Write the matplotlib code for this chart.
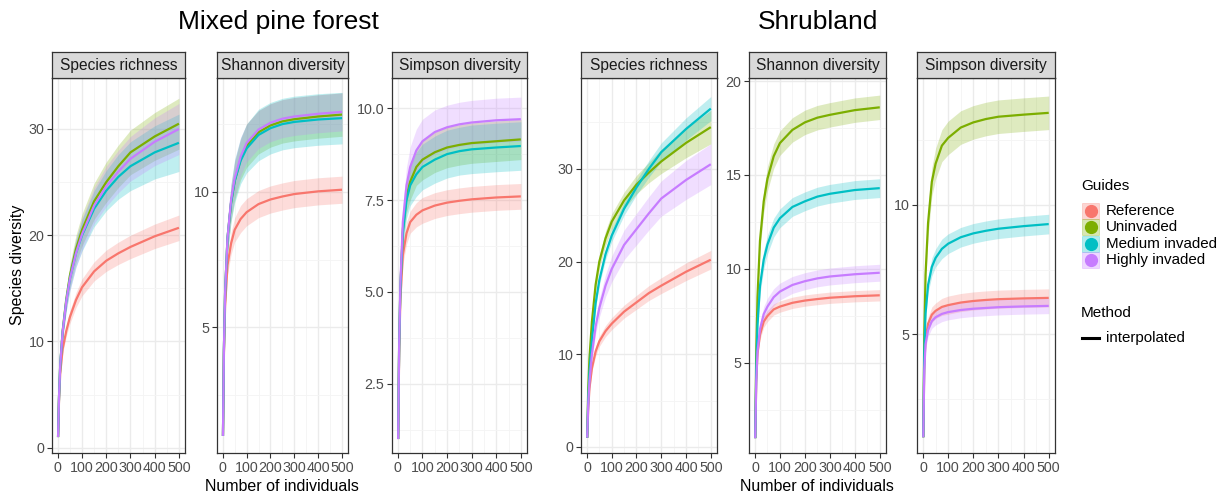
import matplotlib
matplotlib.use("Agg")
import matplotlib.pyplot as plt
import numpy as np
from matplotlib.patches import Rectangle
from matplotlib.lines import Line2D

plt.rcParams['font.family'] = ['Liberation Sans', 'DejaVu Sans']

# ---------------- data ----------------
sites = ["Mixed pine forest", "Shrubland"]
metrics = ["Species richness", "Shannon diversity", "Simpson diversity"]
guides = ["Reference", "Uninvaded", "Medium invaded", "Highly invaded"]
colors = ["#F8766D", "#7CAE00", "#00BFC4", "#C77CFF"]

n_ind = [1, 5, 10, 20, 35, 50, 75, 100, 150, 200, 250, 300, 400, 500]

# Mixed pine forest - species richness
mix_rich_ref = [1, 4.5, 7.0, 9.3, 11.0, 12.3, 13.9, 15.1, 16.6, 17.6, 18.3, 18.9, 19.9, 20.7]
mix_rich_uni = [1, 4.8, 7.8, 11.0, 14.0, 16.2, 18.7, 20.5, 23.2, 25.0, 26.5, 27.8, 29.3, 30.5]
mix_rich_med = [1, 4.8, 7.8, 10.9, 13.8, 15.9, 18.3, 20.0, 22.5, 24.2, 25.5, 26.5, 27.8, 28.7]
mix_rich_hi = [1, 4.8, 7.8, 10.9, 13.8, 15.9, 18.3, 20.1, 22.8, 24.6, 26.0, 27.2, 28.8, 30.0]
mix_rich_ref_ci = [0, 0.2, 0.3, 0.4, 0.5, 0.6, 0.7, 0.8, 0.9, 1.0, 1.05, 1.1, 1.15, 1.2]
mix_rich_uni_ci = [0, 0.3, 0.5, 0.7, 0.9, 1.1, 1.3, 1.5, 1.7, 1.9, 2.0, 2.1, 2.25, 2.4]
mix_rich_med_ci = [0, 0.3, 0.5, 0.7, 0.9, 1.1, 1.3, 1.5, 1.7, 1.9, 2.1, 2.3, 2.5, 2.7]
mix_rich_hi_ci = [0, 0.3, 0.5, 0.7, 0.9, 1.1, 1.3, 1.5, 1.7, 1.9, 2.0, 2.1, 2.25, 2.4]

# Mixed pine forest - Shannon diversity
mix_shan_ref = [1, 4.0, 5.8, 7.3, 8.1, 8.6, 9.0, 9.25, 9.55, 9.72, 9.83, 9.92, 10.02, 10.08]
mix_shan_uni = [1, 4.2, 6.3, 8.3, 9.6, 10.4, 11.2, 11.7, 12.2, 12.45, 12.6, 12.68, 12.78, 12.85]
mix_shan_med = [1, 4.2, 6.3, 8.3, 9.6, 10.4, 11.15, 11.6, 12.1, 12.35, 12.5, 12.58, 12.67, 12.72]
mix_shan_hi = [1, 4.2, 6.3, 8.3, 9.7, 10.5, 11.3, 11.8, 12.3, 12.55, 12.7, 12.78, 12.88, 12.95]
mix_shan_ref_ci = [0, 0.2, 0.3, 0.35, 0.4, 0.45, 0.5, 0.5, 0.5, 0.5, 0.5, 0.5, 0.5, 0.5]
mix_shan_uni_ci = [0, 0.3, 0.45, 0.55, 0.65, 0.7, 0.75, 0.8, 0.8, 0.8, 0.8, 0.8, 0.8, 0.8]
mix_shan_med_ci = [0, 0.3, 0.45, 0.6, 0.7, 0.8, 0.85, 0.9, 0.95, 0.95, 0.95, 0.95, 0.95, 0.95]
mix_shan_hi_ci = [0, 0.3, 0.45, 0.55, 0.6, 0.65, 0.7, 0.7, 0.7, 0.7, 0.7, 0.7, 0.7, 0.7]

# Mixed pine forest - Simpson diversity
mix_simp_ref = [1, 3.3, 4.8, 6.0, 6.6, 6.9, 7.1, 7.22, 7.35, 7.43, 7.48, 7.52, 7.57, 7.6]
mix_simp_uni = [1, 3.5, 5.1, 6.7, 7.6, 8.0, 8.4, 8.6, 8.8, 8.93, 9.0, 9.05, 9.1, 9.15]
mix_simp_med = [1, 3.5, 5.1, 6.6, 7.5, 7.9, 8.2, 8.4, 8.6, 8.75, 8.83, 8.88, 8.93, 8.97]
mix_simp_hi = [1, 3.5, 5.2, 6.9, 7.9, 8.4, 8.85, 9.1, 9.35, 9.48, 9.56, 9.61, 9.67, 9.7]
mix_simp_ref_ci = [0, 0.15, 0.2, 0.25, 0.3, 0.3, 0.33, 0.35, 0.35, 0.35, 0.35, 0.35, 0.35, 0.35]
mix_simp_uni_ci = [0, 0.2, 0.3, 0.4, 0.45, 0.5, 0.5, 0.55, 0.55, 0.55, 0.55, 0.55, 0.55, 0.55]
mix_simp_med_ci = [0, 0.2, 0.3, 0.45, 0.5, 0.55, 0.6, 0.62, 0.64, 0.65, 0.65, 0.66, 0.66, 0.66]
mix_simp_hi_ci = [0, 0.2, 0.35, 0.45, 0.5, 0.55, 0.58, 0.6, 0.6, 0.6, 0.6, 0.6, 0.6, 0.6]

# Shrubland - species richness
shr_rich_ref = [1, 4.0, 6.3, 8.5, 10.3, 11.4, 12.5, 13.3, 14.6, 15.6, 16.6, 17.4, 18.9, 20.2]
shr_rich_uni = [1, 6.0, 9.5, 13.5, 17.5, 20.0, 22.5, 24.3, 26.6, 28.3, 29.6, 30.8, 32.8, 34.5]
shr_rich_med = [1, 5.0, 8.0, 11.5, 15.5, 18.0, 20.8, 22.8, 25.7, 28.0, 30.0, 31.8, 34.3, 36.5]
shr_rich_hi = [1, 4.5, 7.0, 10.0, 13.0, 15.0, 17.4, 19.2, 21.8, 23.5, 25.2, 26.8, 28.8, 30.5]
shr_rich_ref_ci = [0, 0.2, 0.3, 0.4, 0.5, 0.55, 0.6, 0.65, 0.7, 0.75, 0.8, 0.85, 0.95, 1.0]
shr_rich_uni_ci = [0, 0.3, 0.4, 0.5, 0.6, 0.7, 0.8, 0.85, 0.9, 1.0, 1.1, 1.3, 1.6, 1.8]
shr_rich_med_ci = [0, 0.2, 0.3, 0.4, 0.5, 0.55, 0.6, 0.65, 0.7, 0.8, 0.9, 1.0, 1.2, 1.3]
shr_rich_hi_ci = [0, 0.3, 0.4, 0.6, 0.8, 1.0, 1.2, 1.4, 1.6, 1.7, 1.8, 1.9, 2.1, 2.2]

# Shrubland - Shannon diversity
shr_shan_ref = [1, 4.0, 5.5, 6.5, 7.2, 7.5, 7.85, 8.0, 8.2, 8.32, 8.4, 8.47, 8.55, 8.6]
shr_shan_uni = [1, 5.5, 8.5, 11.5, 13.6, 14.8, 16.0, 16.7, 17.4, 17.8, 18.05, 18.2, 18.45, 18.6]
shr_shan_med = [1, 4.6, 7.0, 9.1, 10.5, 11.3, 12.2, 12.7, 13.3, 13.6, 13.85, 14.0, 14.2, 14.3]
shr_shan_hi = [1, 4.0, 5.6, 6.8, 7.6, 8.0, 8.5, 8.8, 9.15, 9.35, 9.5, 9.6, 9.72, 9.8]
shr_shan_ref_ci = [0, 0.15, 0.2, 0.25, 0.3, 0.3, 0.3, 0.3, 0.3, 0.3, 0.3, 0.3, 0.3, 0.3]
shr_shan_uni_ci = [0, 0.3, 0.4, 0.5, 0.6, 0.65, 0.65, 0.65, 0.65, 0.65, 0.65, 0.65, 0.65, 0.65]
shr_shan_med_ci = [0, 0.25, 0.35, 0.45, 0.5, 0.5, 0.5, 0.5, 0.5, 0.5, 0.5, 0.5, 0.5, 0.5]
shr_shan_hi_ci = [0, 0.2, 0.3, 0.35, 0.4, 0.45, 0.45, 0.45, 0.45, 0.45, 0.45, 0.45, 0.45, 0.45]

# Shrubland - Simpson diversity
shr_simp_ref = [1, 3.8, 4.8, 5.4, 5.75, 5.9, 6.05, 6.12, 6.22, 6.28, 6.32, 6.35, 6.38, 6.4]
shr_simp_uni = [1, 5.0, 7.3, 9.3, 10.9, 11.6, 12.3, 12.6, 13.0, 13.2, 13.33, 13.42, 13.5, 13.57]
shr_simp_med = [1, 4.3, 5.8, 6.9, 7.6, 7.95, 8.3, 8.5, 8.75, 8.9, 9.0, 9.08, 9.18, 9.26]
shr_simp_hi = [1, 3.6, 4.6, 5.15, 5.5, 5.65, 5.78, 5.85, 5.93, 5.98, 6.01, 6.04, 6.07, 6.09]
shr_simp_ref_ci = [0, 0.15, 0.2, 0.25, 0.3, 0.3, 0.33, 0.35, 0.35, 0.35, 0.35, 0.35, 0.35, 0.35]
shr_simp_uni_ci = [0, 0.3, 0.4, 0.5, 0.55, 0.6, 0.62, 0.65, 0.65, 0.65, 0.65, 0.65, 0.65, 0.65]
shr_simp_med_ci = [0, 0.2, 0.25, 0.3, 0.35, 0.35, 0.38, 0.38, 0.38, 0.38, 0.38, 0.38, 0.38, 0.38]
shr_simp_hi_ci = [0, 0.15, 0.2, 0.25, 0.28, 0.3, 0.3, 0.3, 0.3, 0.3, 0.3, 0.3, 0.3, 0.3]

x_ticks = [0, 100, 200, 300, 400, 500]
x_tick_labels = ["0", "100", "200", "300", "400", "500"]

panels = [
    dict(series=[mix_rich_ref, mix_rich_uni, mix_rich_med, mix_rich_hi],
         ci=[mix_rich_ref_ci, mix_rich_uni_ci, mix_rich_med_ci, mix_rich_hi_ci],
         ylim=(-0.5, 34.8), yt=[0, 10, 20, 30], ytl=["0", "10", "20", "30"], step=10),
    dict(series=[mix_shan_ref, mix_shan_uni, mix_shan_med, mix_shan_hi],
         ci=[mix_shan_ref_ci, mix_shan_uni_ci, mix_shan_med_ci, mix_shan_hi_ci],
         ylim=(0.37, 14.2), yt=[5, 10], ytl=["5", "10"], step=5),
    dict(series=[mix_simp_ref, mix_simp_uni, mix_simp_med, mix_simp_hi],
         ci=[mix_simp_ref_ci, mix_simp_uni_ci, mix_simp_med_ci, mix_simp_hi_ci],
         ylim=(0.62, 10.82), yt=[2.5, 5.0, 7.5, 10.0], ytl=["2.5", "5.0", "7.5", "10.0"], step=2.5),
    dict(series=[shr_rich_ref, shr_rich_uni, shr_rich_med, shr_rich_hi],
         ci=[shr_rich_ref_ci, shr_rich_uni_ci, shr_rich_med_ci, shr_rich_hi_ci],
         ylim=(-0.65, 39.8), yt=[0, 10, 20, 30], ytl=["0", "10", "20", "30"], step=10),
    dict(series=[shr_shan_ref, shr_shan_uni, shr_shan_med, shr_shan_hi],
         ci=[shr_shan_ref_ci, shr_shan_uni_ci, shr_shan_med_ci, shr_shan_hi_ci],
         ylim=(0.21, 20.16), yt=[5, 10, 15, 20], ytl=["5", "10", "15", "20"], step=5),
    dict(series=[shr_simp_ref, shr_simp_uni, shr_simp_med, shr_simp_hi],
         ci=[shr_simp_ref_ci, shr_simp_uni_ci, shr_simp_med_ci, shr_simp_hi_ci],
         ylim=(0.39, 14.92), yt=[5, 10], ytl=["5", "10"], step=5),
]

# ---------------- layout ----------------
W, H = 1231, 494
fig = plt.figure(figsize=(W / 100, H / 100), dpi=100)
fig.patch.set_facecolor("white")

panel_x = [(52, 185), (217, 348), (392, 527), (581, 717), (749, 886), (917, 1055)]
top_px, bot_px, strip_top = 78, 453, 52

def fx(px):
    return px / W

def fy(py):
    return 1 - py / H

tick_col = "#4D4D4D"
border_col = "#333333"
grid_col = "#EBEBEB"

for i, (p, (x0, x1)) in enumerate(zip(panels, panel_x)):
    ax = fig.add_axes([fx(x0), fy(bot_px), fx(x1 - x0), (bot_px - top_px) / H])
    ax.set_xlim(-24, 525)
    ax.set_ylim(*p["ylim"])
    ax.set_xticks(x_ticks)
    ax.set_xticklabels(x_tick_labels)
    ax.set_xticks([50, 150, 250, 350, 450], minor=True)
    ax.set_yticks(p["yt"])
    ax.set_yticklabels(p["ytl"])
    st = p["step"]
    minor_y = np.arange(p["yt"][0] - st / 2, p["ylim"][1], st)
    ax.set_yticks([v for v in minor_y if p["ylim"][0] < v < p["ylim"][1]], minor=True)
    ax.grid(True, which="major", color=grid_col, lw=1.0, zorder=0)
    ax.grid(True, which="minor", color="#F4F4F4", lw=0.6, zorder=0)
    ax.set_axisbelow(True)
    ax.tick_params(which="major", length=3.5, width=0.8, color=border_col,
                   labelsize=10.3, labelcolor=tick_col, pad=2)
    ax.tick_params(which="minor", length=0)
    for s in ax.spines.values():
        s.set_color(border_col)
        s.set_linewidth(0.9)
    for ser, ci, col in zip(p["series"], p["ci"], colors):
        m = np.array(ser)
        c = np.array(ci)
        ax.fill_between(n_ind, m - c, m + c, color=col, alpha=0.25, lw=0, zorder=2)
    for ser, col in zip(p["series"], colors):
        ax.plot(n_ind, ser, color=col, lw=1.6, zorder=3, solid_capstyle="butt")

    # strip
    sax = fig.add_axes([fx(x0), fy(top_px), fx(x1 - x0), (top_px - strip_top) / H])
    sax.set_xticks([]); sax.set_yticks([])
    sax.set_facecolor("#D9D9D9")
    for s in sax.spines.values():
        s.set_color(border_col)
        s.set_linewidth(0.9)
    sax.text(0.5, 0.47, metrics[i % 3], ha="center", va="center",
             fontsize=11.2, color="#1A1A1A", transform=sax.transAxes)

# titles
fig.text(fx(278), fy(22), sites[0], ha="center", va="center", fontsize=19)
fig.text(fx(818), fy(22), sites[1], ha="center", va="center", fontsize=19)

# axis titles
fig.text(fx(18), fy(265), "Species diversity", rotation=90, ha="center", va="center", fontsize=11.5)
fig.text(fx(282), fy(486), "Number of individuals", ha="center", va="center", fontsize=11.5)
fig.text(fx(817), fy(486), "Number of individuals", ha="center", va="center", fontsize=11.5)

# legend
fig.text(fx(1081), fy(186), "Guides", ha="left", va="center", fontsize=11)
row_y = [211, 227, 244, 260]
for g, col, ry in zip(guides, colors, row_y):
    fig.patches.append(Rectangle((fx(1082), fy(ry + 8)), fx(17), 16 / H,
                                 transform=fig.transFigure, facecolor=col, alpha=0.3,
                                 edgecolor=col, lw=0.6))
    fig.lines.append(Line2D([fx(1090.5)], [fy(ry)], marker="o", markersize=8.5,
                            color=col, transform=fig.transFigure))
    fig.text(fx(1106), fy(ry), g, ha="left", va="center", fontsize=10.9)
fig.text(fx(1081), fy(313), "Method", ha="left", va="center", fontsize=11)
fig.lines.append(Line2D([fx(1082), fx(1099)], [fy(338), fy(338)], color="black", lw=2.2,
                        transform=fig.transFigure))
fig.text(fx(1106), fy(338), "interpolated", ha="left", va="center", fontsize=10.9)

fig.savefig("out.png", dpi=100, facecolor="white")
